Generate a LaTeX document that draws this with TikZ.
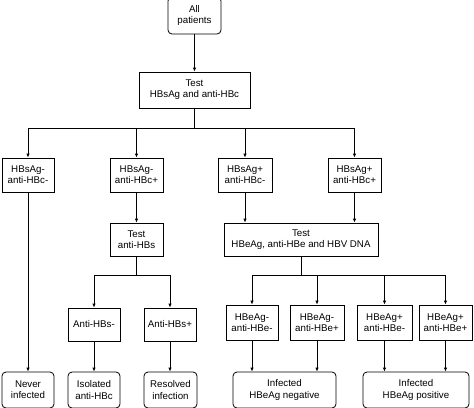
\documentclass[tikz,border=0pt]{standalone}
\usepackage{fontspec}
\setmainfont{Liberation Sans}
\usetikzlibrary{arrows.meta,calc,positioning}

\begin{document}
\begin{tikzpicture}[x=0.75pt,y=-0.75pt,>={Latex[length=3pt,width=2.6pt]},
    font=\fontsize{7.3}{8.4}\selectfont,line width=0.6pt,
    box/.style={draw,fill=white,align=center,inner sep=1pt},
    endbox/.style={box,rounded corners=3pt}]
  \useasboundingbox (0,0) rectangle (474,407);

  % Start and first test.
  \node[endbox,minimum width=53*0.75pt,minimum height=37*0.75pt] (all) at (194.5,15.5) {All\\patients};
  \node[box,minimum width=111*0.75pt,minimum height=36*0.75pt] (testA) at (194.5,90) {Test\\HBsAg and anti-HBc};

  % Serology groups.
  \node[box,minimum width=52*0.75pt,minimum height=34*0.75pt] (sNegcNeg) at (28,175) {HBsAg-\\anti-HBc-};
  \node[box,minimum width=53*0.75pt,minimum height=34*0.75pt] (sNegcPos) at (136.5,175) {HBsAg-\\anti-HBc+};
  \node[box,minimum width=54*0.75pt,minimum height=34*0.75pt] (sPoscNeg) at (245,175) {HBsAg+\\anti-HBc-};
  \node[box,minimum width=53*0.75pt,minimum height=34*0.75pt] (sPoscPos) at (354.5,175) {HBsAg+\\anti-HBc+};

  % Second tests.
  \node[box,minimum width=53*0.75pt,minimum height=33*0.75pt] (testB) at (136.5,239.5) {Test\\anti-HBs};
  \node[box,minimum width=154*0.75pt,minimum height=33*0.75pt] (testC) at (301,239.5) {Test\\HBeAg, anti-HBe and HBV DNA};

  % Results of second tests.
  \node[box,minimum width=52*0.75pt,minimum height=33*0.75pt] (hbsNeg) at (94,324.5) {Anti-HBs-};
  \node[box,minimum width=52*0.75pt,minimum height=33*0.75pt] (hbsPos) at (170,324.5) {Anti-HBs+};
  \node[box,minimum width=52*0.75pt,minimum height=35*0.75pt] (eNegNeg) at (252,322.5) {HBeAg-\\anti-HBe-};
  \node[box,minimum width=54*0.75pt,minimum height=35*0.75pt] (eNegPos) at (317,322.5) {HBeAg-\\anti-HBe+};
  \node[box,minimum width=55*0.75pt,minimum height=35*0.75pt] (ePosNeg) at (384.5,322.5) {HBeAg+\\anti-HBe-};
  \node[box,minimum width=53*0.75pt,minimum height=35*0.75pt] (ePosPos) at (445.5,322.5) {HBeAg+\\anti-HBe+};

  % Final categories.
  \node[endbox,minimum width=52*0.75pt,minimum height=36*0.75pt] (never) at (28,390) {Never\\infected};
  \node[endbox,minimum width=52*0.75pt,minimum height=36*0.75pt] (isolated) at (94,390) {Isolated\\anti-HBc};
  \node[endbox,minimum width=53*0.75pt,minimum height=36*0.75pt] (resolved) at (170.5,390) {Resolved\\infection};
  \node[endbox,minimum width=103*0.75pt,minimum height=36*0.75pt] (infNeg) at (284.5,390) {Infected\\HBeAg negative};
  \node[endbox,minimum width=106*0.75pt,minimum height=36*0.75pt] (infPos) at (416,390) {Infected\\HBeAg positive};

  % Branch points.
  \coordinate (splitA) at (194.5,128);
  \coordinate (splitB) at (136.5,275);
  \coordinate (splitC) at (301,275);

  % Connectors.
  \draw[->] (all) -- (testA);
  \draw (testA) -- (splitA);
  \foreach \n in {sNegcNeg,sNegcPos,sPoscNeg,sPoscPos}
    \draw[->] (splitA) -| (\n);
  \draw[->] (sNegcNeg) -- (never);
  \draw[->] (sNegcPos) -- (testB);
  \draw[->] (sPoscNeg) -- (sPoscNeg |- testC.north);
  \draw[->] (sPoscPos) -- (sPoscPos |- testC.north);
  \draw (testB) -- (splitB);
  \foreach \n in {hbsNeg,hbsPos}
    \draw[->] (splitB) -| (\n);
  \draw (testC) -- (splitC);
  \foreach \n in {eNegNeg,eNegPos,ePosNeg,ePosPos}
    \draw[->] (splitC) -| (\n);
  \draw[->] (hbsNeg) -- (isolated);
  \draw[->] (hbsPos) -- (hbsPos |- resolved.north);
  \draw[->] (eNegNeg) -- (eNegNeg |- infNeg.north);
  \draw[->] (eNegPos) -- (eNegPos |- infNeg.north);
  \draw[->] (ePosNeg) -- (ePosNeg |- infPos.north);
  \draw[->] (ePosPos) -- (ePosPos |- infPos.north);
\end{tikzpicture}
\end{document}
